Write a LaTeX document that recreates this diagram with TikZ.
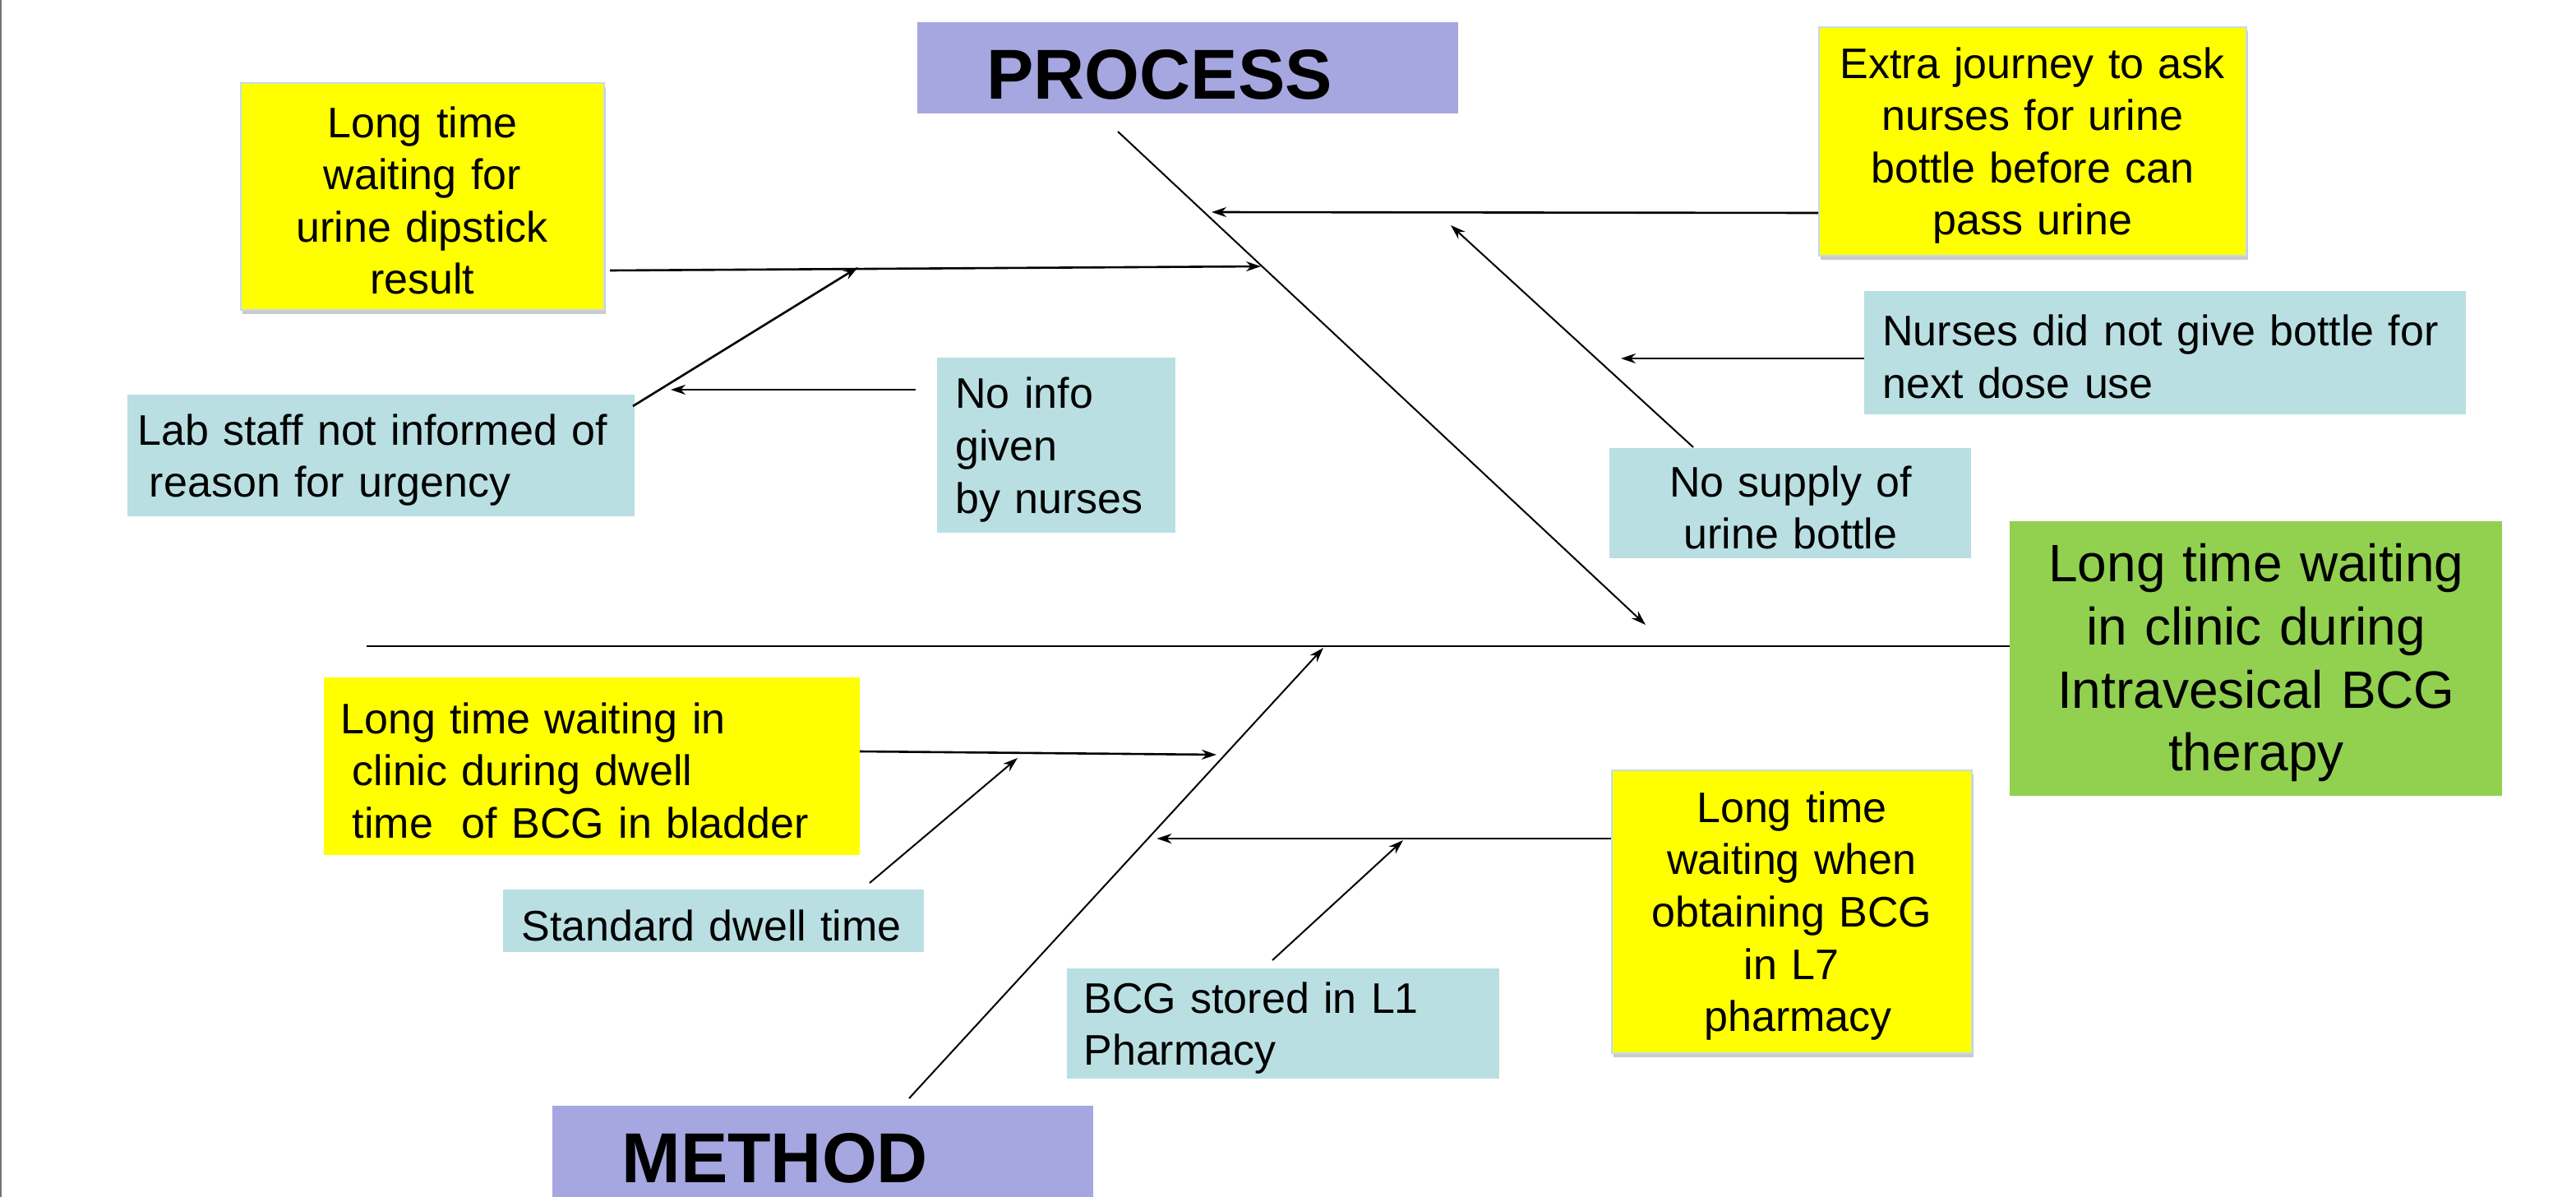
\documentclass[tikz,border=0pt]{standalone}
\usepackage{fontspec}
\setmainfont{Liberation Sans}
\usetikzlibrary{arrows.meta,shadows}
\definecolor{yel}{HTML}{FFFF00}
\definecolor{aqua}{HTML}{B9DFE2}
\definecolor{lav}{HTML}{A6A6E0}
\definecolor{grn}{HTML}{92D050}
\definecolor{edgeblue}{HTML}{C5DAEE}
\begin{document}
\begin{tikzpicture}[x=1pt,y=-1pt,
  base/.style={anchor=north west, inner ysep=0pt, font=\fontsize{26}{31.8}\selectfont,
     execute at begin node={\rule{0pt}{24pt}}},
  ctr/.style={base, inner xsep=5pt, align=center},
  lft/.style={base, align=left},
  yelbox/.style={fill=yel},
  shbox/.style={fill=yel, draw=edgeblue, line width=0.8pt,
     drop shadow={shadow xshift=1pt, shadow yshift=-2.5pt, opacity=0.35, fill=black!60}},
  aquabox/.style={fill=aqua},
  headbox/.style={anchor=north west, fill=lav, inner xsep=42pt, inner ysep=0pt,
     text height=38pt, text depth=0pt, align=left,
     font=\fontsize{43}{50}\selectfont\bfseries},
  arr/.style={line width=1.3pt, -{Stealth[length=9pt,width=6pt]}},
  bone/.style={line width=1pt, -{Stealth[length=9pt,width=6pt]}},
]
\useasboundingbox (0,0) rectangle (1567,728);
\draw[black!55, line width=1.2pt] (0.6,0) -- (0.6,728);

% heads
\node[headbox, text width=245pt, minimum height=55.3pt] (proc) at (558,13.4) {PROCESS};
\node[headbox, text width=245pt, minimum height=55.5pt] (meth) at (336,672.5) {METHOD};

% effect
\node[base, fill=grn, inner xsep=5pt, align=center, text width=289.5pt, minimum height=167pt,
      font=\fontsize{32}{38.3}\selectfont, execute at begin node={\rule{0pt}{28pt}}] (eff) at (1222.5,317)
  {Long time waiting\\in clinic during\\Intravesical BCG\\therapy};

% process side
\node[ctr, shbox, text width=211pt, minimum height=138pt] (dip) at (146,50)
  {Long time\\waiting for\\urine dipstick\\result};
\node[lft, aquabox, inner xsep=6pt, text width=296.5pt, minimum height=74pt] (lab) at (77.5,240)
  {Lab staff not informed of\\\hspace*{0.28em}reason for urgency};
\node[lft, aquabox, inner xsep=11pt, text width=123pt, minimum height=106.5pt] (noinfo) at (570,217.5)
  {No info\\given\\by nurses};
\node[ctr, shbox, text width=250pt, minimum height=139pt] (extra) at (1106,16)
  {Extra journey to ask\\nurses for urine\\bottle before can\\pass urine};
\node[lft, aquabox, inner xsep=11pt, text width=344pt, minimum height=74.6pt] (nurses) at (1134,177)
  {Nurses did not give bottle for\\next dose use};
\node[ctr, aquabox, text width=210pt, minimum height=67pt] (supply) at (979,272.5)
  {No supply of\\urine bottle};

% method side
\node[lft, yelbox, inner xsep=10pt, text width=306pt, minimum height=107.6pt] (dwell) at (197,412)
  {Long time waiting in\\\hspace*{0.28em}clinic during dwell\\\hspace*{0.28em}time\ \ of BCG in bladder};
\node[lft, aquabox, inner xsep=11pt, text width=234pt, minimum height=38pt] (std) at (306,541)
  {Standard dwell time};
\node[lft, aquabox, inner xsep=10pt, text width=243pt, minimum height=67pt] (stored) at (649,589)
  {BCG stored in L1\\Pharmacy};
\node[ctr, shbox, text width=209pt, minimum height=172pt] (l7) at (980,468)
  {Long time\\waiting when\\obtaining BCG\\in L7\\\hspace*{0.3em}pharmacy};

% coordinates
\coordinate (spL) at (223,393);
\coordinate (pA) at (680,80);
\coordinate (pB) at (1001,380);
\coordinate (mA) at (553,668);
\coordinate (mB) at (805,394);
\coordinate (sDip) at (371,164.5);
\coordinate (eDip) at (767,162);
\coordinate (sLab) at (385,247);
\coordinate (eLab) at (522,162.5);
\coordinate (sInfo) at (557,237);
\coordinate (eInfo) at (408,237);
\coordinate (sExtra) at (1106,129.5);
\coordinate (eExtra) at (737,129);
\coordinate (sSup) at (1030,272);
\coordinate (eSup) at (882.5,137);
\coordinate (sNur) at (1134,218);
\coordinate (eNur) at (986,218);
\coordinate (sDw) at (523,457);
\coordinate (eDw) at (740,459);
\coordinate (sStd) at (529,537);
\coordinate (eStd) at (619,461);
\coordinate (sL7) at (980,510);
\coordinate (eL7) at (703.7,510);
\coordinate (sSt) at (774,584);
\coordinate (eSt) at (853.5,511);

% spine and bones
\draw[line width=1.2pt] (spL) -- (eff.west |- spL);
\draw[bone] (pA) -- (pB);
\draw[bone] (mA) -- (mB);

% branches
\draw[arr] (sDip) -- (eDip);
\draw[arr] (sLab) -- (eLab);
\draw[arr] (sInfo) -- (eInfo);
\draw[arr] (sExtra) -- (eExtra);
\draw[arr, line width=1pt] (sSup) -- (eSup);
\draw[arr] (sNur) -- (eNur);
\draw[arr] (sDw) -- (eDw);
\draw[arr, line width=1pt] (sStd) -- (eStd);
\draw[arr] (sL7) -- (eL7);
\draw[arr, line width=1pt] (sSt) -- (eSt);
\end{tikzpicture}
\end{document}
